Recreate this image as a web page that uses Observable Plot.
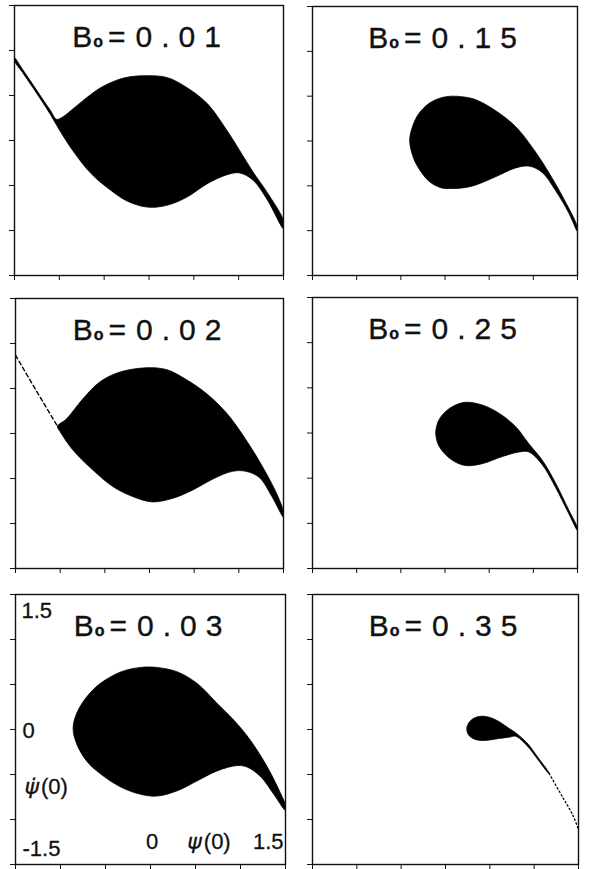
<!DOCTYPE html>
<html>
<head>
<meta charset="utf-8">
<script src="https://cdn.jsdelivr.net/npm/d3@7"></script>
<script src="https://cdn.jsdelivr.net/npm/@observablehq/plot@0.6"></script>
<style>
  html, body { margin: 0; padding: 0; background: #fff; }
  #fig { position: relative; width: 589px; height: 869px; overflow: hidden; background: #fff; }
  #fig svg { position: absolute; overflow: visible; }
</style>
</head>
<body>
<div id="fig"></div>
<script>
// Phase-plane regions (ψ(0), ψ̇(0)) for six forcing amplitudes B₀.
const xTicks = [-1.5, -1, -0.5, 0, 0.5, 1, 1.5];
const yTicks = [-1.5, -1, -0.5, 0, 0.5, 1, 1.5];

// Upper and lower boundaries of each filled region, left to right, as [ψ, ψ̇].
const upper001 = [[-1.5, 0.92], [-1.4, 0.775], [-1.3, 0.63], [-1.2, 0.48], [-1.1, 0.335], [-1.03, 0.235], [-0.95, 0.27], [-0.85, 0.35], [-0.74, 0.44], [-0.55, 0.58], [-0.36, 0.67], [-0.2, 0.71], [-0.02, 0.72], [0.2, 0.70], [0.42, 0.59], [0.65, 0.41], [0.87, 0.11], [1.01, -0.11], [1.16, -0.35], [1.32, -0.58], [1.5, -0.89]];
const lower001 = [[-1.5, 0.885], [-1.4, 0.74], [-1.3, 0.595], [-1.2, 0.445], [-1.1, 0.29], [-1.0, 0.12], [-0.9, -0.04], [-0.8, -0.18], [-0.69, -0.32], [-0.58, -0.43], [-0.47, -0.52], [-0.25, -0.67], [-0.02, -0.74], [0.2, -0.72], [0.42, -0.63], [0.65, -0.48], [0.87, -0.38], [1.01, -0.36], [1.16, -0.44], [1.32, -0.66], [1.5, -0.98]];

const upper015 = [[-0.40, 0.01], [-0.36, 0.18], [-0.30, 0.30], [-0.18, 0.42], [-0.05, 0.48], [0.08, 0.50], [0.22, 0.49], [0.35, 0.46], [0.57, 0.34], [0.80, 0.16], [1.03, -0.13], [1.18, -0.36], [1.32, -0.60], [1.5, -0.96]];
const lower015 = [[-0.36, -0.18], [-0.30, -0.30], [-0.18, -0.45], [-0.05, -0.52], [0.08, -0.53], [0.22, -0.52], [0.35, -0.49], [0.57, -0.40], [0.80, -0.30], [0.95, -0.28], [1.10, -0.35], [1.25, -0.55], [1.40, -0.80], [1.5, -1.01]];

const tail002 = [[-1.5, 0.87], [-1.27, 0.48], [-1.03, 0.08]];
const upper002 = [[-1.03, 0.08], [-0.93, 0.16], [-0.75, 0.38], [-0.56, 0.57], [-0.34, 0.68], [-0.04, 0.73], [0.19, 0.71], [0.41, 0.60], [0.63, 0.45], [0.86, 0.23], [1.08, -0.07], [1.26, -0.36], [1.42, -0.66], [1.5, -0.87]];
const lower002 = [[-1.0, 0.02], [-0.86, -0.18], [-0.64, -0.40], [-0.41, -0.59], [-0.19, -0.70], [0.03, -0.76], [0.26, -0.72], [0.48, -0.63], [0.70, -0.51], [0.93, -0.42], [1.08, -0.42], [1.23, -0.49], [1.37, -0.70], [1.5, -0.93]];

const upper025 = [[-0.105, 0.0], [-0.08, 0.12], [-0.03, 0.20], [0.08, 0.29], [0.23, 0.34], [0.42, 0.31], [0.61, 0.22], [0.80, 0.07], [0.95, -0.12], [1.10, -0.30], [1.25, -0.55], [1.40, -0.85], [1.5, -1.05]];
const lower025 = [[-0.08, -0.12], [-0.03, -0.20], [0.08, -0.30], [0.23, -0.36], [0.42, -0.34], [0.65, -0.26], [0.84, -0.21], [0.95, -0.21], [1.10, -0.35], [1.25, -0.60], [1.40, -0.89], [1.5, -1.08]];

const upper003 = [[-0.86, 0.01], [-0.82, 0.18], [-0.71, 0.36], [-0.56, 0.51], [-0.33, 0.64], [-0.11, 0.69], [0.07, 0.69], [0.30, 0.64], [0.52, 0.51], [0.74, 0.29], [0.93, 0.10], [1.11, -0.12], [1.30, -0.42], [1.45, -0.72], [1.5, -0.84]];
const lower003 = [[-0.82, -0.16], [-0.71, -0.35], [-0.56, -0.49], [-0.33, -0.64], [-0.11, -0.72], [0.07, -0.74], [0.30, -0.68], [0.52, -0.57], [0.74, -0.46], [0.97, -0.40], [1.08, -0.42], [1.23, -0.53], [1.37, -0.72], [1.5, -0.90]];

const upper035 = [[0.24, 0.01], [0.26, 0.07], [0.31, 0.12], [0.38, 0.145], [0.45, 0.145], [0.54, 0.12], [0.64, 0.065], [0.72, 0.01], [0.79, -0.035], [0.92, -0.15], [1.05, -0.32], [1.17, -0.485]];
const lower035 = [[0.26, -0.06], [0.31, -0.10], [0.38, -0.12], [0.47, -0.12], [0.60, -0.10], [0.72, -0.085], [0.79, -0.075], [0.92, -0.18], [1.05, -0.345], [1.17, -0.495]];
const tail035 = [[1.17, -0.49], [1.32, -0.75], [1.43, -0.94], [1.5, -1.11]];

// Axis annotation (drawn inside the lower-left panel only)
const yLabelValues = [1.5, 0, -1.5];
const yLabelTexts = ["1.5", "0", "-1.5"];
const xLabelValues = [0, 1.5];
const xLabelTexts = ["0", "1.5"];
const xName = "ψ(0)";
const yName = "ψ\u0307(0)";

const toPoints = (pairs) => pairs.map(([x, y]) => ({x, y}));
const outline = (upper, lower) => toPoints([...upper, ...lower.slice().reverse()]);

const FONT = "'Liberation Sans', Arial, Helvetica, sans-serif";
const M = 10;

const panels = [
  {b: "0.01", left: 14, top: 5, w: 269, h: 270, upper: upper001, lower: lower001},
  {b: "0.15", left: 312, top: 6, w: 265, h: 269, upper: upper015, lower: lower015},
  {b: "0.02", left: 15, top: 298, w: 268, h: 270, upper: upper002, lower: lower002, dashed: tail002},
  {b: "0.25", left: 312, top: 297, w: 265, h: 271, upper: upper025, lower: lower025},
  {b: "0.03", left: 15, top: 594, w: 270, h: 270, upper: upper003, lower: lower003, annotate: true},
  {b: "0.35", left: 312, top: 594, w: 266, h: 270, upper: upper035, lower: lower035, dotted: tail035}
];

const fig = document.getElementById("fig");

function makeTspan(parent, str, attrs) {
  const ts = document.createElementNS("http://www.w3.org/2000/svg", "tspan");
  ts.textContent = str;
  for (const k in attrs) ts.setAttribute(k, attrs[k]);
  parent.appendChild(ts);
}

for (const p of panels) {
  const marks = [
    Plot.line(outline(p.upper, p.lower), {
      x: "x", y: "y", fill: "#000", stroke: "#000", strokeWidth: 0.8,
      curve: "catmull-rom-closed", clip: true
    })
  ];
  if (p.dashed) {
    marks.push(Plot.line(toPoints(p.dashed), {x: "x", y: "y", stroke: "#000", strokeWidth: 1.4, strokeDasharray: "4,3", clip: true}));
  }
  if (p.dotted) {
    marks.push(Plot.line(toPoints(p.dotted), {x: "x", y: "y", stroke: "#000", strokeWidth: 1.3, strokeDasharray: "1.5,2.5", curve: "catmull-rom", clip: true}));
  }
  marks.push(Plot.frame({stroke: "#111", strokeWidth: 1.4}));
  marks.push(Plot.text([`B₀ = ${p.b}`], {
    frameAnchor: "top", lineAnchor: "bottom", dy: 41, dx: 2,
    fontSize: 30, fontFamily: FONT, fill: "#111", stroke: "#111", strokeWidth: 0.35, ariaLabel: "title"
  }));
  if (p.annotate) {
    const lab = {fontSize: 22, fontFamily: FONT, fill: "#111", stroke: "#111", strokeWidth: 0.3, lineAnchor: "middle"};
    marks.push(Plot.text([yLabelValues[0]], {x: -1.5, y: d => d, text: () => yLabelTexts[0], textAnchor: "start", dx: 6, dy: 16, ...lab}));
    marks.push(Plot.text([yLabelValues[1]], {x: -1.5, y: d => d, text: () => yLabelTexts[1], textAnchor: "start", dx: 7, dy: 1, ...lab}));
    marks.push(Plot.text([yLabelValues[2]], {x: -1.5, y: d => d, text: () => yLabelTexts[2], textAnchor: "start", dx: 7, dy: -16, ...lab}));
    marks.push(Plot.text([xLabelValues[0]], {x: d => d, y: -1.5, text: () => xLabelTexts[0], textAnchor: "middle", dx: 1.5, dy: -23, ...lab}));
    marks.push(Plot.text([xLabelValues[1]], {x: d => d, y: -1.5, text: () => xLabelTexts[1], textAnchor: "end", dx: -2, dy: -23, ...lab}));
    marks.push(Plot.text([xName], {x: 0.65, y: -1.5, text: d => d, textAnchor: "middle", dy: -23, ariaLabel: "xname", ...lab}));
    marks.push(Plot.text([yName], {x: -1.5, y: -0.64, text: d => d, textAnchor: "start", dx: 9, ariaLabel: "yname", ...lab}));
  }

  const svg = Plot.plot({
    width: p.w + 2 * M,
    height: p.h + 2 * M,
    margin: M,
    style: {background: "transparent", color: "#111"},
    x: {domain: [-1.5, 1.5], ticks: xTicks, tickSize: 5, tickFormat: () => "", label: null},
    y: {domain: [-1.5, 1.5], ticks: yTicks, tickSize: 5, tickFormat: () => "", label: null},
    marks
  });
  svg.style.left = (p.left - M) + "px";
  svg.style.top = (p.top - M) + "px";

  // Title: B with a small bold "o" subscript, then the spaced-out value
  svg.querySelectorAll("text").forEach(t => {
    const s = t.textContent;
    if (s.startsWith("B₀")) {
      t.textContent = "";
      makeTspan(t, "B", {});
      makeTspan(t, "o", {"font-size": 16, "font-weight": "bold", dx: 1});
      makeTspan(t, "=", {dx: 5});
      makeTspan(t, p.b, {dx: 10, "letter-spacing": 9});
    } else if (s === xName || s === yName) {
      const sym = s.slice(0, s.indexOf("("));
      t.textContent = "";
      makeTspan(t, sym, {"font-style": "italic", "font-family": "'DejaVu Sans', sans-serif"});
      makeTspan(t, "(0)", {dx: 2});
    }
  });
  fig.appendChild(svg);
}
</script>
</body>
</html>
